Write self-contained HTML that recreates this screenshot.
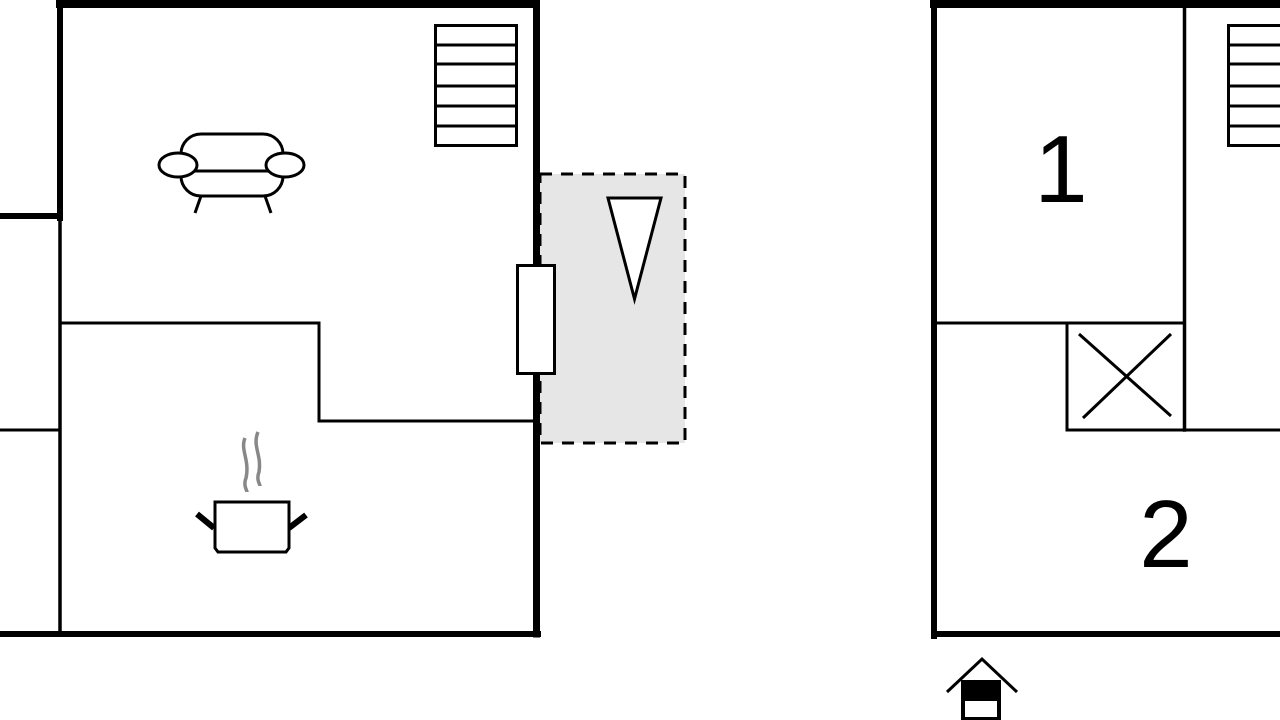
<!DOCTYPE html>
<html><head><meta charset="utf-8"><style>
html,body{margin:0;padding:0;background:#fff;}
svg{display:block;}
</style></head><body>
<svg width="1280" height="720" viewBox="0 0 1280 720" xmlns="http://www.w3.org/2000/svg">
<rect width="1280" height="720" fill="#fff"/>
<!-- balcony -->
<rect x="540" y="174" width="145" height="269" fill="#e6e6e6" stroke="#000" stroke-width="3" stroke-dasharray="12,9"/>
<!-- left building walls -->
<g stroke="#000" fill="none" stroke-linecap="square">
<line x1="60" y1="4" x2="536" y2="4" stroke-width="8"/>
<line x1="536.5" y1="0" x2="536.5" y2="634" stroke-width="7"/>
<line x1="60" y1="0" x2="60" y2="218" stroke-width="6"/>
<line x1="0" y1="216" x2="60" y2="216" stroke-width="6"/>
<line x1="60" y1="218" x2="60" y2="634" stroke-width="3.5"/>
<line x1="0" y1="430" x2="60" y2="430" stroke-width="3"/>
<line x1="0" y1="634" x2="538" y2="634" stroke-width="6"/>
<line x1="60" y1="323" x2="319" y2="323" stroke-width="3"/>
<line x1="319" y1="323" x2="319" y2="421" stroke-width="3"/>
<line x1="319" y1="421" x2="536" y2="421" stroke-width="3"/>
</g>
<!-- stairs left -->
<g stroke="#000" stroke-width="3" fill="none">
<rect x="435.5" y="25.5" width="81" height="120"/>
<line x1="435" y1="45" x2="517" y2="45"/>
<line x1="435" y1="64" x2="517" y2="64"/>
<line x1="435" y1="86" x2="517" y2="86"/>
<line x1="435" y1="106" x2="517" y2="106"/>
<line x1="435" y1="126" x2="517" y2="126"/>
</g>
<!-- window -->
<rect x="517.5" y="265.5" width="37" height="108" fill="#fff" stroke="#000" stroke-width="3"/>
<!-- triangle -->
<polygon points="608,198 661,198 634.5,299" fill="#fff" stroke="#000" stroke-width="3"/>
<!-- sofa -->
<g stroke="#000" stroke-width="3" fill="#fff">
<rect x="181" y="134" width="102" height="62" rx="20"/>
<line x1="181" y1="171" x2="283" y2="171"/>
<line x1="201" y1="196" x2="195" y2="213"/>
<line x1="265" y1="196" x2="271" y2="213"/>
<ellipse cx="178" cy="165" rx="19" ry="12"/>
<ellipse cx="285" cy="165" rx="19" ry="12"/>
</g>
<!-- pot -->
<g>
<path d="M245 438 C240 450, 250 460, 246 478 C243 486, 247 490, 247 492" stroke="#888" stroke-width="3.5" fill="none"/>
<path d="M258 432 C252 446, 262 455, 259 472 C256 480, 260 484, 260 486" stroke="#888" stroke-width="3.5" fill="none"/>
<line x1="197" y1="514" x2="214" y2="528" stroke="#000" stroke-width="6"/>
<line x1="306" y1="515" x2="289" y2="528" stroke="#000" stroke-width="6"/>
<path d="M215 502 H289 V548 L286 552 H218 L215 548 Z" fill="#fff" stroke="#000" stroke-width="3"/>
</g>
<!-- right building -->
<g stroke="#000" fill="none" stroke-linecap="square">
<line x1="934" y1="4" x2="1280" y2="4" stroke-width="8"/>
<line x1="934" y1="0" x2="934" y2="636" stroke-width="6"/>
<line x1="934" y1="634" x2="1280" y2="634" stroke-width="6"/>
<line x1="1184.5" y1="0" x2="1184.5" y2="430" stroke-width="3.5"/>
<line x1="936" y1="323" x2="1184" y2="323" stroke-width="3"/>
<line x1="1067" y1="323" x2="1067" y2="430" stroke-width="3"/>
<line x1="1067" y1="430" x2="1280" y2="430" stroke-width="3"/>
<line x1="1079" y1="334" x2="1171" y2="416" stroke-width="3" stroke-linecap="butt"/>
<line x1="1083" y1="418" x2="1171" y2="334" stroke-width="3" stroke-linecap="butt"/>
</g>
<g stroke="#000" stroke-width="3" fill="none">
<rect x="1228.5" y="25.5" width="60" height="120"/>
<line x1="1228" y1="45" x2="1280" y2="45"/>
<line x1="1228" y1="64" x2="1280" y2="64"/>
<line x1="1228" y1="86" x2="1280" y2="86"/>
<line x1="1228" y1="106" x2="1280" y2="106"/>
<line x1="1228" y1="126" x2="1280" y2="126"/>
</g>
<text x="1061" y="202" font-family="Liberation Sans, sans-serif" font-size="96" text-anchor="middle" fill="#000">1</text>
<text x="1166" y="567" font-family="Liberation Sans, sans-serif" font-size="96" text-anchor="middle" fill="#000">2</text>
<!-- entrance icon -->
<polyline points="947,692 982,659 1017,692" fill="none" stroke="#000" stroke-width="3"/>
<rect x="961" y="680" width="40" height="40" fill="#000"/>
<rect x="965" y="701" width="32" height="16" fill="#fff"/>
</svg>
</body></html>
